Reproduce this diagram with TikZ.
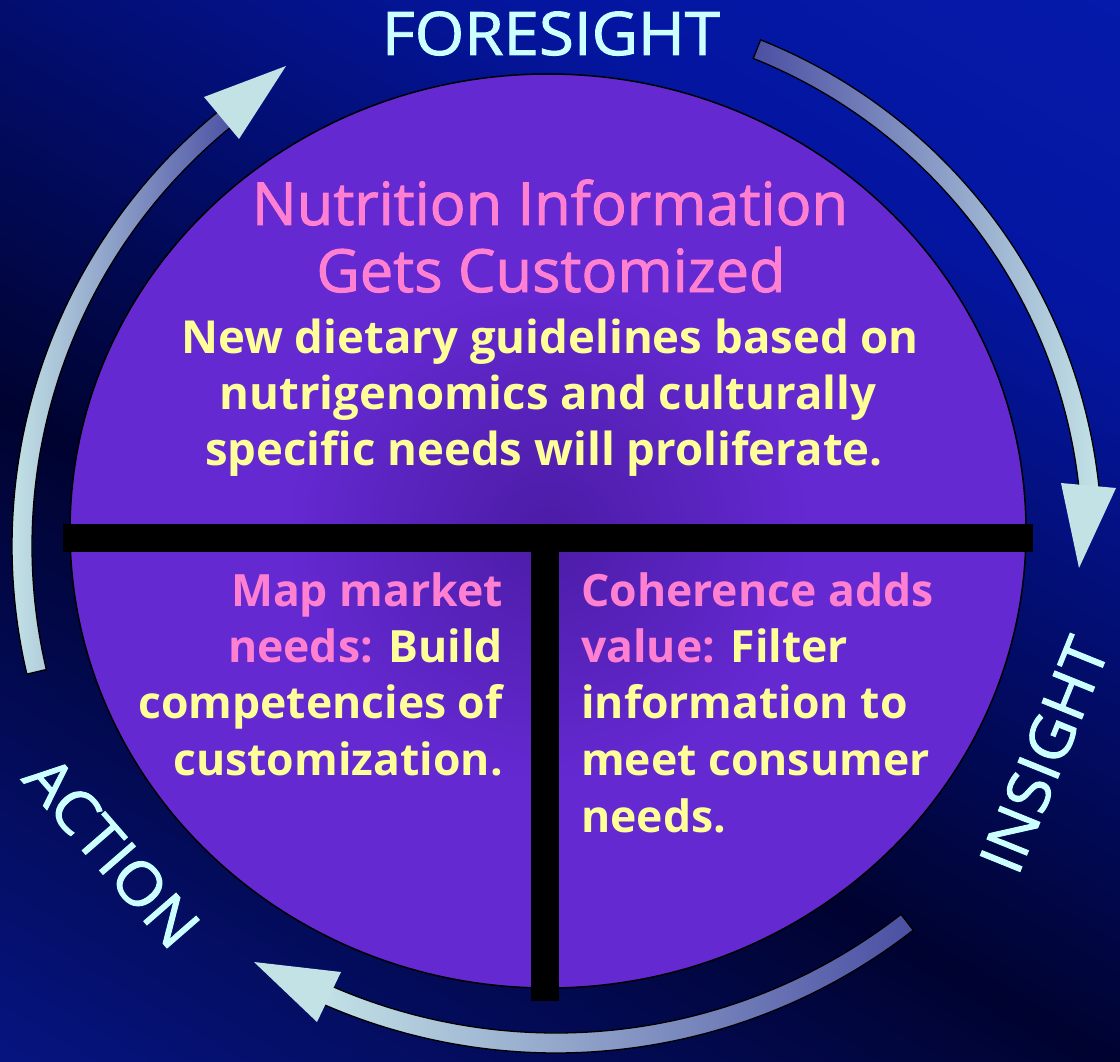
\documentclass[tikz,border=0pt]{standalone}
\usepackage{fontspec}
\setmainfont{Open Sans}
\newfontfamily\titlefam{Open Sans}[FakeBold=1.6]
\newfontfamily\labelfam{Open Sans}[FakeBold=1.6,FakeStretch=1.06]
\usetikzlibrary{calc}
\definecolor{pinkT}{HTML}{FF80D0}
\definecolor{yelT}{HTML}{FFFF99}
\definecolor{cyanT}{HTML}{CCFFFF}
\definecolor{bgA}{HTML}{061480}
\definecolor{bgB}{HTML}{000330}
\definecolor{bgC}{HTML}{0416A0}
\definecolor{bgD}{HTML}{0519AA}
\definecolor{ellIn}{HTML}{4B1CA6}
\definecolor{ellOut}{HTML}{6529D2}
\definecolor{arLight}{HTML}{C3E2E6}
\definecolor{arDark}{HTML}{4B4FA3}
\pgfdeclarehorizontalshading{bgshade}{100bp}{color(0bp)=(bgA); color(25bp)=(bgA); color(44bp)=(bgB); color(65bp)=(bgC); color(75bp)=(bgD); color(100bp)=(bgD)}
\pgfdeclareradialshading{ellshade}{\pgfpoint{0bp}{0bp}}{color(0bp)=(ellIn); color(14bp)=(ellOut); color(50bp)=(ellOut)}
\tikzset{
  titletext/.style={font=\titlefam\fontsize{59.5}{61}\selectfont, text=pinkT, inner sep=0pt, anchor=base},
  bodytext/.style={font=\bfseries\fontsize{45.5}{48}\selectfont, text=yelT, inner sep=0pt},
  quadtext/.style={font=\bfseries\fontsize{44.5}{47}\selectfont, text=yelT, inner sep=0pt},
  cyclabel/.style={font=\labelfam\fontsize{60}{62}\selectfont, text=cyanT, inner sep=0pt},
  shaftL/.style={draw=black, line width=1.3pt, left color=arLight, right color=arDark},
  shaftR/.style={draw=black, line width=1.3pt, left color=arDark, right color=arLight},
  headA/.style={fill=arLight},
  tbar/.style={fill=black}
}
% #1 style, #2 cx, #3 cy, #4 radius, #5 start angle, #6 end angle
\newcommand\arcshaft[6]{%
  \path[#1] plot[domain=#5:#6,samples=90] ({#2+(#4+10)*cos(\x)},{#3+(#4+10)*sin(\x)})
    -- plot[domain=#6:#5,samples=90] ({#2+(#4-10)*cos(\x)},{#3+(#4-10)*sin(\x)}) -- cycle;}
\begin{document}
\begin{tikzpicture}[x=1pt,y=-1pt]
\useasboundingbox (0,0) rectangle (1120,1062);
\begin{scope}
  \clip (0,0) rectangle (1120,1062);
  \shade[shading=bgshade, shading angle=59.4] (-182,-211) rectangle (1302,1273);
\end{scope}
% central disc
\draw[shading=ellshade, line width=1.5pt] (548,531) ellipse [x radius=478, y radius=457];
% T divider
\fill[tbar] (63,524) rectangle (1033,552);
\fill[tbar] (531,524) rectangle (559,1001);
% cycle arrows
\arcshaft{shaftL}{573}{546}{551}{166.8}{231.5}
\fill[headA] (286,66) -- (204,97) -- (239,139) -- cycle;
\arcshaft{shaftR}{559}{544}{533}{-68.2}{-5.5}
\fill[headA] (1079,568) -- (1061,483) -- (1116,488) -- cycle;
\arcshaft{shaftL}{556}{472}{571}{52.05}{114}
\fill[headA] (254,962) -- (341,972) -- (317,1022) -- cycle;
% cycle labels
\node[cyclabel, anchor=base] (fore) at (551,55) {FORESIGHT};
\node[cyclabel, rotate=68] (ins) at (1044,755) {INSIGHT};
\node[cyclabel, rotate=-49] (act) at (112,852) {ACTION};
% title
\node[titletext] (t1) at (550,225) {Nutrition Information};
\node[titletext] (t2) at (551,292) {Gets Customized};
\node[bodytext, anchor=base] (b1) at (550,353) {New dietary guidelines based on};
\node[bodytext, anchor=base] (b2) at (548,409) {nutrigenomics and culturally};
\node[bodytext, anchor=base] (b3) at (544,465) {specific needs will proliferate.};
% left quadrant
\node[quadtext, anchor=base east] (l1) at (503,606) {\textcolor{pinkT}{Map market}};
\node[quadtext, anchor=base east] (l2) at (503,662) {\textcolor{pinkT}{needs:} Build};
\node[quadtext, anchor=base east] (l3) at (503,718) {competencies of};
\node[quadtext, anchor=base east] (l4) at (503,775) {customization.};
% right quadrant
\node[quadtext, anchor=base west] (r1) at (581,606) {\textcolor{pinkT}{Coherence adds}};
\node[quadtext, anchor=base west] (r2) at (581,662) {\textcolor{pinkT}{value:} Filter};
\node[quadtext, anchor=base west] (r3) at (581,718) {information to};
\node[quadtext, anchor=base west] (r4) at (581,775) {meet consumer};
\node[quadtext, anchor=base west] (r5) at (581,832) {needs.};
\end{tikzpicture}
\end{document}
